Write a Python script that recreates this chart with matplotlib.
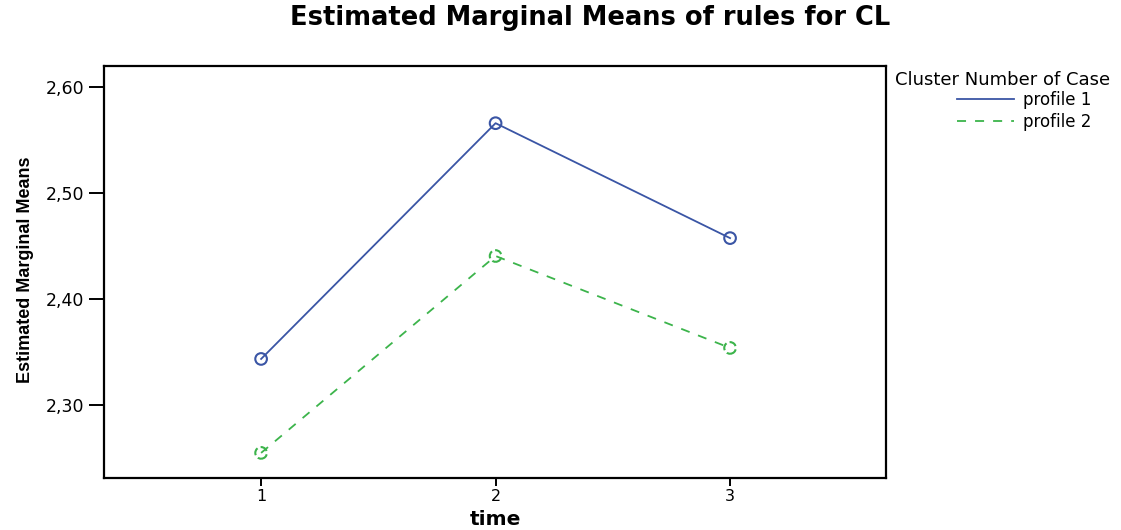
import matplotlib
matplotlib.use("Agg")
import matplotlib.pyplot as plt
from matplotlib.lines import Line2D

time = [1, 2, 3]
profile1 = [2.3434, 2.5660, 2.4575]
profile2 = [2.2547, 2.4406, 2.3538]
yticks = [2.30, 2.40, 2.50, 2.60]
ytick_labels = ["2,30", "2,40", "2,50", "2,60"]
series_labels = ['profile 1', 'profile 2']

plt.rcParams['font.family'] = ['DejaVu Sans']

blue = '#3a55a5'
green = '#3cb44b'
dash = (0, (5, 5))

fig = plt.figure(figsize=(11.21, 5.30), dpi=100)
ax = fig.add_axes([104/1121, 1-478/530, (886-104)/1121, (478-66)/530])

ax.plot(time, profile1, color=blue, lw=1.3, ls='-')
ax.scatter(time, profile1, s=70, facecolors='none', edgecolors=blue, linewidths=1.5, zorder=3)
ax.plot(time, profile2, color=green, lw=1.3, ls=dash)
ax.scatter(time, profile2, s=70, facecolors='none', edgecolors=green, linewidths=1.5,
           linestyles='--', zorder=3)

ax.set_xlim(0.33, 3.665)
ax.set_ylim(2.231, 2.62)
ax.set_xticks(time)
ax.set_xticklabels([str(t) for t in time], fontsize=11.5)
ax.set_yticks(yticks)
ax.set_yticklabels(ytick_labels, fontsize=12.5)
for s in ax.spines.values():
    s.set_linewidth(1.6)
ax.tick_params(axis='y', length=11, width=1.4, direction='out', pad=3)
ax.tick_params(axis='x', length=6, width=1.4, direction='out', pad=2)

ax.set_xlabel('time', fontsize=14.5, fontweight='bold')
ax.xaxis.set_label_coords(0.5, -0.077)
ax.set_ylabel('Estimated Marginal Means', fontsize=13, fontweight='bold',
              family=['Liberation Sans', 'DejaVu Sans'])
ax.yaxis.set_label_coords(-0.0895, 0.505)

fig.text(590/1121, 1-18/530, 'Estimated Marginal Means of rules for CL',
         ha='center', va='center', fontsize=18.5, fontweight='bold')

fig.text(895/1121, 1-80/530, 'Cluster Number of Case', ha='left', va='center', fontsize=13)
handles = [Line2D([], [], color=blue, lw=1.3, ls='-'),
           Line2D([], [], color=green, lw=1.3, ls=dash)]
leg = fig.legend(handles, series_labels,
                 loc='upper left', bbox_to_anchor=(957/1121, 1-91/530), frameon=False,
                 fontsize=12, handlelength=3.4, handletextpad=0.55,
                 borderaxespad=0, borderpad=0, labelspacing=0.25)

fig.savefig('out.png', dpi=100)
